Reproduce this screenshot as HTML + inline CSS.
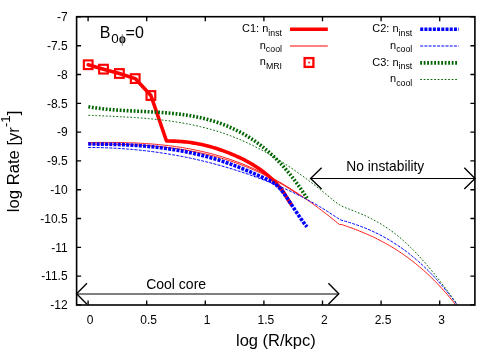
<!DOCTYPE html>
<html><head><meta charset="utf-8"><title>plot</title>
<style>html,body{margin:0;padding:0;background:#fff;width:500px;height:350px;overflow:hidden}body{position:relative;font-family:"Liberation Sans",sans-serif}</style>
</head><body>
<svg width="500" height="350" viewBox="0 0 500 350" style="position:absolute;left:0;top:0;will-change:transform">
<rect width="500" height="350" fill="#fff"/>
<path d="M88.10,305.0 v-4.5 M88.10,16.7 v4.5 M146.70,305.0 v-4.5 M146.70,16.7 v4.5 M205.30,305.0 v-4.5 M205.30,16.7 v4.5 M263.90,305.0 v-4.5 M263.90,16.7 v4.5 M322.50,305.0 v-4.5 M322.50,16.7 v4.5 M381.10,305.0 v-4.5 M381.10,16.7 v4.5 M439.70,305.0 v-4.5 M439.70,16.7 v4.5 M76.6,16.90 h4.5 M474.9,16.90 h-4.5 M76.6,45.70 h4.5 M474.9,45.70 h-4.5 M76.6,74.50 h4.5 M474.9,74.50 h-4.5 M76.6,103.30 h4.5 M474.9,103.30 h-4.5 M76.6,132.10 h4.5 M474.9,132.10 h-4.5 M76.6,160.90 h4.5 M474.9,160.90 h-4.5 M76.6,189.70 h4.5 M474.9,189.70 h-4.5 M76.6,218.50 h4.5 M474.9,218.50 h-4.5 M76.6,247.30 h4.5 M474.9,247.30 h-4.5 M76.6,276.10 h4.5 M474.9,276.10 h-4.5 M76.6,304.90 h4.5 M474.9,304.90 h-4.5" stroke="#000" stroke-width="1.35" fill="none"/>
<g fill="none" stroke-linejoin="round">
<path d="M88.20,64.75 L103.50,69.15 L119.40,73.50 L135.20,78.60 L150.90,95.50 L166.50,141.00 L168.51,141.03 L170.52,141.04 L172.52,141.08 L174.53,141.14 L176.54,141.23 L178.55,141.34 L180.56,141.48 L182.56,141.65 L184.57,141.84 L186.58,142.06 L188.59,142.31 L190.60,142.59 L192.60,142.89 L194.61,143.21 L196.62,143.57 L198.63,143.95 L200.64,144.36 L202.65,144.79 L204.65,145.25 L206.66,145.74 L208.67,146.26 L210.68,146.80 L212.69,147.37 L214.69,147.97 L216.70,148.59 L218.71,149.24 L220.72,149.92 L222.73,150.62 L224.73,151.36 L226.74,152.12 L228.75,152.90 L230.76,153.72 L232.77,154.56 L234.77,155.43 L236.78,156.33 L238.79,157.25 L240.80,158.20 L242.81,159.19 L244.81,160.20 L246.82,161.25 L248.83,162.35 L250.84,163.48 L252.85,164.67 L254.85,165.91 L256.86,167.21 L258.87,168.56 L260.88,169.99 L262.89,171.48 L264.90,173.04 L266.90,174.68 L268.91,176.40 L270.92,178.21 L272.93,180.10 L274.94,182.09 L276.94,184.17 L278.95,186.36 L280.96,188.68 L282.97,191.28 L284.98,194.36 L286.98,197.80 L288.99,201.17 L291.00,204.05" stroke="#f00" stroke-width="3.6" stroke-linecap="round"/>
<path d="M88.20,142.62 L90.21,142.59 L92.22,142.56 L94.23,142.53 L96.24,142.50 L98.25,142.48 L100.26,142.46 L102.27,142.45 L104.28,142.44 L106.29,142.43 L108.30,142.43 L110.31,142.44 L112.32,142.45 L114.34,142.46 L116.35,142.48 L118.36,142.51 L120.37,142.54 L122.38,142.58 L124.39,142.63 L126.40,142.68 L128.41,142.74 L130.42,142.80 L132.43,142.87 L134.44,142.95 L136.45,143.04 L138.46,143.14 L140.47,143.24 L142.48,143.35 L144.49,143.48 L146.50,143.61 L148.51,143.74 L150.52,143.89 L152.53,144.05 L154.54,144.21 L156.55,144.39 L158.56,144.58 L160.57,144.77 L162.58,144.98 L164.60,145.20 L166.61,145.43 L168.62,145.67 L170.63,145.92 L172.64,146.18 L174.65,146.45 L176.66,146.74 L178.67,147.03 L180.68,147.34 L182.69,147.67 L184.70,148.00 L186.71,148.35 L188.72,148.71 L190.73,149.09 L192.74,149.47 L194.75,149.87 L196.76,150.29 L198.77,150.72 L200.78,151.16 L202.79,151.62 L204.80,152.10 L206.81,152.59 L208.82,153.09 L210.83,153.61 L212.84,154.14 L214.86,154.69 L216.87,155.26 L218.88,155.84 L220.89,156.44 L222.90,157.06 L224.91,157.69 L226.92,158.34 L228.93,159.01 L230.94,159.69 L232.95,160.40 L234.96,161.12 L236.97,161.86 L238.98,162.61 L240.99,163.39 L243.00,164.18 L245.01,165.00 L247.02,165.83 L249.03,166.68 L251.04,167.55 L253.05,168.44 L255.06,169.36 L257.07,170.29 L259.08,171.24 L261.09,172.21 L263.10,173.21 L265.12,174.22 L267.13,175.25 L269.14,176.31 L271.15,177.38 L273.16,178.48 L275.17,179.59 L277.18,180.73 L279.19,181.88 L281.20,183.05 L283.21,184.24 L285.22,185.45 L287.23,186.68 L289.24,187.92 L291.25,189.19 L293.26,190.47 L295.27,191.77 L297.28,193.09 L299.29,194.43 L301.30,195.78 L303.31,197.15 L305.32,198.54 L307.33,199.94 L309.34,201.37 L311.35,202.80 L313.36,204.26 L315.38,205.73 L317.39,207.21 L319.40,208.72 L321.41,210.23 L323.42,211.77 L325.43,213.32 L327.44,214.88 L329.45,216.46 L331.46,218.05 L333.47,219.66 L335.48,221.29 L337.49,222.92 L339.50,224.57 L341.50,224.50 L343.50,225.17 L345.51,225.85 L347.51,226.54 L349.51,227.25 L351.51,227.98 L353.51,228.72 L355.51,229.48 L357.52,230.25 L359.52,231.05 L361.52,231.86 L363.52,232.69 L365.52,233.55 L367.52,234.42 L369.53,235.32 L371.53,236.23 L373.53,237.18 L375.53,238.14 L377.53,239.13 L379.53,240.15 L381.54,241.19 L383.54,242.26 L385.54,243.35 L387.54,244.48 L389.54,245.63 L391.54,246.81 L393.55,248.03 L395.55,249.27 L397.55,250.55 L399.55,251.86 L401.55,253.20 L403.56,254.58 L405.56,255.99 L407.56,257.43 L409.56,258.92 L411.56,260.44 L413.56,262.00 L415.57,263.59 L417.57,265.23 L419.57,266.90 L421.57,268.62 L423.57,270.37 L425.57,272.17 L427.58,274.01 L429.58,275.90 L431.58,277.83 L433.58,279.80 L435.58,281.82 L437.58,283.89 L439.59,286.00 L441.59,288.16 L443.59,290.37 L445.59,292.63 L447.59,294.94 L449.59,297.29 L451.60,299.71 L453.60,302.17 L455.60,304.68" stroke="#f00" stroke-width="0.9"/>
<path d="M88.20,144.03 L90.22,144.03 L92.23,144.03 L94.25,144.04 L96.27,144.05 L98.29,144.06 L100.30,144.07 L102.32,144.09 L104.34,144.11 L106.35,144.13 L108.37,144.15 L110.39,144.18 L112.41,144.21 L114.42,144.25 L116.44,144.29 L118.46,144.34 L120.47,144.39 L122.49,144.44 L124.51,144.51 L126.53,144.57 L128.54,144.64 L130.56,144.72 L132.58,144.81 L134.59,144.90 L136.61,145.00 L138.63,145.10 L140.65,145.21 L142.66,145.33 L144.68,145.46 L146.70,145.59 L148.71,145.73 L150.73,145.88 L152.75,146.04 L154.77,146.21 L156.78,146.39 L158.80,146.57 L160.82,146.77 L162.83,146.98 L164.85,147.19 L166.87,147.42 L168.89,147.65 L170.90,147.90 L172.92,148.15 L174.94,148.42 L176.95,148.70 L178.97,148.99 L180.99,149.30 L183.01,149.61 L185.02,149.94 L187.04,150.28 L189.06,150.63 L191.07,150.99 L193.09,151.37 L195.11,151.76 L197.13,152.17 L199.14,152.58 L201.16,153.02 L203.18,153.46 L205.19,153.93 L207.21,154.40 L209.23,154.89 L211.25,155.40 L213.26,155.92 L215.28,156.46 L217.30,157.01 L219.31,157.58 L221.33,158.17 L223.35,158.77 L225.37,159.39 L227.38,160.02 L229.40,160.68 L231.42,161.35 L233.43,162.03 L235.45,162.74 L237.47,163.46 L239.49,164.20 L241.50,164.96 L243.52,165.74 L245.54,166.53 L247.55,167.35 L249.57,168.18 L251.59,169.03 L253.61,169.91 L255.62,170.80 L257.64,171.71 L259.66,172.64 L261.67,173.59 L263.69,174.56 L265.71,175.55 L267.73,176.56 L269.74,177.59 L271.76,178.64 L273.78,179.71 L275.79,180.81 L277.81,181.92 L279.83,183.06 L281.85,184.22 L283.86,185.40 L285.88,186.60 L287.90,187.83 L289.91,189.07 L291.93,190.34 L293.95,191.63 L295.97,192.95 L297.98,194.29 L300.00,195.65" stroke="#f00" stroke-width="0.9"/>
<rect x="83.85" y="60.40" width="8.7" height="8.7" stroke="#f00" stroke-width="2.15" stroke-linejoin="miter"/>
<rect x="99.15" y="64.80" width="8.7" height="8.7" stroke="#f00" stroke-width="2.15" stroke-linejoin="miter"/>
<rect x="115.05" y="69.15" width="8.7" height="8.7" stroke="#f00" stroke-width="2.15" stroke-linejoin="miter"/>
<rect x="130.85" y="74.25" width="8.7" height="8.7" stroke="#f00" stroke-width="2.15" stroke-linejoin="miter"/>
<rect x="146.55" y="91.15" width="8.7" height="8.7" stroke="#f00" stroke-width="2.15" stroke-linejoin="miter"/>
<path d="M88.20,144.06 L90.21,144.06 L92.21,144.06 L94.22,144.06 L96.23,144.07 L98.24,144.09 L100.24,144.11 L102.25,144.13 L104.26,144.16 L106.27,144.19 L108.27,144.23 L110.28,144.28 L112.29,144.33 L114.30,144.38 L116.30,144.45 L118.31,144.51 L120.32,144.59 L122.32,144.67 L124.33,144.76 L126.34,144.86 L128.35,144.96 L130.35,145.07 L132.36,145.19 L134.37,145.31 L136.38,145.45 L138.38,145.59 L140.39,145.74 L142.40,145.90 L144.41,146.07 L146.41,146.24 L148.42,146.43 L150.43,146.62 L152.43,146.83 L154.44,147.04 L156.45,147.26 L158.46,147.50 L160.46,147.74 L162.47,147.99 L164.48,148.26 L166.49,148.53 L168.49,148.82 L170.50,149.12 L172.51,149.43 L174.52,149.75 L176.52,150.08 L178.53,150.42 L180.54,150.78 L182.54,151.15 L184.55,151.53 L186.56,151.92 L188.57,152.32 L190.57,152.74 L192.58,153.18 L194.59,153.62 L196.60,154.08 L198.60,154.55 L200.61,155.04 L202.62,155.54 L204.63,156.05 L206.63,156.58 L208.64,157.13 L210.65,157.68 L212.66,158.26 L214.66,158.85 L216.67,159.45 L218.68,160.07 L220.68,160.71 L222.69,161.36 L224.70,162.02 L226.71,162.71 L228.71,163.41 L230.72,164.12 L232.73,164.86 L234.74,165.61 L236.74,166.38 L238.75,167.16 L240.76,167.96 L242.77,168.78 L244.77,169.62 L246.78,170.47 L248.79,171.33 L250.79,172.20 L252.80,173.07 L254.81,173.96 L256.82,174.84 L258.82,175.73 L260.83,176.62 L262.84,177.51 L264.85,178.40 L266.85,179.28 L268.86,180.22 L270.87,181.24 L272.88,182.42 L274.88,183.81 L276.89,185.44 L278.90,187.39 L280.90,189.65 L282.91,192.18 L284.92,194.91 L286.93,197.81 L288.93,200.81 L290.94,203.87 L292.95,206.94 L294.96,210.00 L296.96,213.03 L298.97,216.00 L300.98,218.89 L302.99,221.68 L304.99,224.35 L307.00,226.86" stroke="#00f" stroke-width="3.6" stroke-dasharray="3 1.22"/>
<path d="M88.20,147.48 L90.21,147.49 L92.22,147.50 L94.23,147.52 L96.24,147.55 L98.25,147.58 L100.26,147.63 L102.27,147.68 L104.28,147.74 L106.29,147.81 L108.30,147.89 L110.31,147.97 L112.32,148.06 L114.34,148.16 L116.35,148.27 L118.36,148.39 L120.37,148.52 L122.38,148.65 L124.39,148.79 L126.40,148.94 L128.41,149.10 L130.42,149.27 L132.43,149.44 L134.44,149.63 L136.45,149.82 L138.46,150.02 L140.47,150.23 L142.48,150.44 L144.49,150.67 L146.50,150.90 L148.51,151.15 L150.52,151.40 L152.53,151.66 L154.54,151.92 L156.55,152.20 L158.56,152.49 L160.57,152.78 L162.58,153.08 L164.60,153.39 L166.61,153.71 L168.62,154.04 L170.63,154.38 L172.64,154.73 L174.65,155.08 L176.66,155.45 L178.67,155.82 L180.68,156.20 L182.69,156.59 L184.70,156.99 L186.71,157.40 L188.72,157.81 L190.73,158.24 L192.74,158.67 L194.75,159.12 L196.76,159.57 L198.77,160.03 L200.78,160.50 L202.79,160.98 L204.80,161.47 L206.81,161.97 L208.82,162.48 L210.83,163.00 L212.84,163.52 L214.86,164.06 L216.87,164.60 L218.88,165.15 L220.89,165.72 L222.90,166.29 L224.91,166.87 L226.92,167.46 L228.93,168.06 L230.94,168.67 L232.95,169.29 L234.96,169.92 L236.97,170.55 L238.98,171.20 L240.99,171.86 L243.00,172.52 L245.01,173.20 L247.02,173.88 L249.03,174.58 L251.04,175.28 L253.05,176.00 L255.06,176.72 L257.07,177.45 L259.08,178.19 L261.09,178.95 L263.10,179.71 L265.12,180.48 L267.13,181.27 L269.14,182.06 L271.15,182.86 L273.16,183.68 L275.17,184.51 L277.18,185.35 L279.19,186.20 L281.20,187.07 L283.21,187.95 L285.22,188.84 L287.23,189.75 L289.24,190.67 L291.25,191.61 L293.26,192.56 L295.27,193.53 L297.28,194.51 L299.29,195.51 L301.30,196.53 L303.31,197.56 L305.32,198.61 L307.33,199.68 L309.34,200.76 L311.35,201.86 L313.36,202.98 L315.38,204.12 L317.39,205.28 L319.40,206.46 L321.41,207.66 L323.42,208.88 L325.43,210.12 L327.44,211.38 L329.45,212.66 L331.46,213.96 L333.47,215.29 L335.48,216.63 L337.49,218.00 L339.50,219.39 L341.53,220.24 L343.55,220.78 L345.58,221.35 L347.60,221.94 L349.63,222.55 L351.66,223.19 L353.68,223.85 L355.71,224.53 L357.73,225.24 L359.76,225.98 L361.78,226.74 L363.81,227.53 L365.84,228.34 L367.86,229.19 L369.89,230.06 L371.91,230.97 L373.94,231.90 L375.97,232.87 L377.99,233.87 L380.02,234.90 L382.04,235.96 L384.07,237.06 L386.09,238.19 L388.12,239.36 L390.15,240.56 L392.17,241.80 L394.20,243.08 L396.22,244.39 L398.25,245.75 L400.28,247.14 L402.30,248.57 L404.33,250.04 L406.35,251.55 L408.38,253.11 L410.41,254.71 L412.43,256.35 L414.46,258.03 L416.48,259.76 L418.51,261.53 L420.53,263.35 L422.56,265.21 L424.59,267.13 L426.61,269.08 L428.64,271.09 L430.66,273.15 L432.69,275.25 L434.72,277.41 L436.74,279.62 L438.77,281.88 L440.79,284.19 L442.82,286.55 L444.84,288.97 L446.87,291.44 L448.90,293.96 L450.92,296.55 L452.95,299.18 L454.97,301.88 L457.00,304.63" stroke="#00f" stroke-width="1" stroke-dasharray="3 1.22"/>
<path d="M88.40,106.76 L90.41,107.10 L92.42,107.42 L94.43,107.72 L96.44,108.00 L98.45,108.26 L100.46,108.51 L102.47,108.75 L104.48,108.97 L106.49,109.18 L108.50,109.37 L110.51,109.55 L112.52,109.72 L114.53,109.88 L116.54,110.03 L118.55,110.17 L120.56,110.30 L122.57,110.43 L124.58,110.55 L126.59,110.66 L128.60,110.77 L130.61,110.87 L132.62,110.97 L134.63,111.07 L136.64,111.16 L138.65,111.26 L140.66,111.35 L142.67,111.45 L144.68,111.54 L146.69,111.64 L148.70,111.74 L150.71,111.84 L152.72,111.95 L154.73,112.06 L156.74,112.18 L158.75,112.30 L160.76,112.43 L162.77,112.57 L164.78,112.72 L166.79,112.88 L168.80,113.05 L170.81,113.23 L172.82,113.42 L174.83,113.63 L176.84,113.85 L178.85,114.08 L180.86,114.33 L182.87,114.59 L184.88,114.87 L186.89,115.17 L188.90,115.49 L190.91,115.83 L192.92,116.18 L194.93,116.56 L196.94,116.95 L198.96,117.37 L200.97,117.82 L202.98,118.28 L204.99,118.77 L207.00,119.29 L209.01,119.83 L211.02,120.40 L213.03,121.00 L215.04,121.62 L217.05,122.28 L219.06,122.96 L221.07,123.67 L223.08,124.42 L225.09,125.20 L227.10,126.01 L229.11,126.86 L231.12,127.74 L233.13,128.65 L235.14,129.60 L237.15,130.59 L239.16,131.62 L241.17,132.68 L243.18,133.79 L245.19,134.93 L247.20,136.12 L249.21,137.35 L251.22,138.63 L253.23,139.95 L255.24,141.33 L257.25,142.75 L259.26,144.23 L261.27,145.76 L263.28,147.34 L265.29,148.98 L267.30,150.68 L269.31,152.43 L271.32,154.25 L273.33,156.13 L275.34,158.07 L277.35,160.08 L279.36,162.16 L281.37,164.30 L283.38,166.51 L285.39,168.79 L287.40,171.15 L289.41,173.58 L291.42,176.09 L293.43,178.67 L295.44,181.33 L297.45,184.07 L299.46,186.90 L301.47,189.80 L303.48,192.80 L305.49,195.87 L307.50,199.04" stroke="#006400" stroke-width="3.6" stroke-dasharray="1.8 1.7"/>
<path d="M88.40,115.27 L90.41,115.36 L92.41,115.45 L94.42,115.54 L96.42,115.63 L98.43,115.71 L100.44,115.80 L102.44,115.89 L104.45,115.97 L106.45,116.06 L108.46,116.15 L110.47,116.24 L112.47,116.33 L114.48,116.42 L116.48,116.52 L118.49,116.62 L120.50,116.72 L122.50,116.82 L124.51,116.93 L126.51,117.04 L128.52,117.16 L130.53,117.28 L132.53,117.41 L134.54,117.54 L136.54,117.67 L138.55,117.81 L140.56,117.96 L142.56,118.12 L144.57,118.28 L146.57,118.44 L148.58,118.62 L150.59,118.80 L152.59,118.99 L154.60,119.19 L156.60,119.40 L158.61,119.61 L160.62,119.84 L162.62,120.07 L164.63,120.32 L166.63,120.57 L168.64,120.84 L170.65,121.11 L172.65,121.40 L174.66,121.70 L176.66,122.01 L178.67,122.33 L180.68,122.67 L182.68,123.01 L184.69,123.37 L186.69,123.75 L188.70,124.13 L190.70,124.53 L192.71,124.95 L194.72,125.38 L196.72,125.82 L198.73,126.28 L200.73,126.75 L202.74,127.24 L204.75,127.75 L206.75,128.27 L208.76,128.81 L210.76,129.37 L212.77,129.94 L214.78,130.53 L216.78,131.14 L218.79,131.77 L220.79,132.42 L222.80,133.08 L224.81,133.76 L226.81,134.47 L228.82,135.19 L230.82,135.93 L232.83,136.70 L234.84,137.48 L236.84,138.29 L238.85,139.12 L240.85,139.96 L242.86,140.84 L244.87,141.73 L246.87,142.64 L248.88,143.58 L250.88,144.53 L252.89,145.51 L254.90,146.51 L256.90,147.53 L258.91,148.57 L260.91,149.63 L262.92,150.71 L264.93,151.81 L266.93,152.93 L268.94,154.07 L270.94,155.23 L272.95,156.41 L274.96,157.61 L276.96,158.83 L278.97,160.06 L280.97,161.32 L282.98,162.60 L284.99,163.89 L286.99,165.20 L289.00,166.53 L291.00,167.88 L293.01,169.25 L295.02,170.64 L297.02,172.04 L299.03,173.46 L301.03,174.90 L303.04,176.36 L305.05,177.83 L307.05,179.32 L309.06,180.83 L311.06,182.35 L313.07,183.89 L315.08,185.45 L317.08,187.02 L319.09,188.61 L321.09,190.22 L323.10,191.84 L325.11,193.47 L327.11,195.12 L329.12,196.78 L331.12,198.45 L333.13,200.11 L335.14,201.71 L337.14,203.22 L339.15,204.58 L341.15,205.76 L343.16,206.76 L345.17,207.63 L347.17,208.42 L349.18,209.16 L351.18,209.90 L353.19,210.66 L355.20,211.44 L357.20,212.24 L359.21,213.07 L361.21,213.92 L363.22,214.80 L365.23,215.71 L367.23,216.65 L369.24,217.63 L371.24,218.63 L373.25,219.68 L375.25,220.75 L377.26,221.87 L379.27,223.03 L381.27,224.23 L383.28,225.47 L385.28,226.75 L387.29,228.08 L389.30,229.46 L391.30,230.89 L393.31,232.37 L395.31,233.90 L397.32,235.49 L399.33,237.13 L401.33,238.82 L403.34,240.57 L405.34,242.38 L407.35,244.24 L409.36,246.16 L411.36,248.13 L413.37,250.14 L415.37,252.21 L417.38,254.32 L419.39,256.48 L421.39,258.69 L423.40,260.94 L425.40,263.23 L427.41,265.57 L429.42,267.94 L431.42,270.36 L433.43,272.81 L435.43,275.30 L437.44,277.83 L439.45,280.39 L441.45,282.98 L443.46,285.60 L445.46,288.26 L447.47,290.95 L449.48,293.66 L451.48,296.40 L453.49,299.17 L455.49,301.97 L457.50,304.78" stroke="#006400" stroke-width="1" stroke-dasharray="1.7 1.8"/>
</g>
<g fill="none">
<path d="M290,29.3 H327.8" stroke="#f00" stroke-width="3.6"/>
<path d="M290,46 H327.8" stroke="#f00" stroke-width="1"/>
<rect x="304.6" y="58.1" width="8.8" height="8.8" stroke="#f00" stroke-width="2.3"/>
<rect x="308.2" y="61.7" width="1.6" height="1.6" fill="#f00"/>
<path d="M420.2,29.3 H458.7" stroke="#00f" stroke-width="3.6" stroke-dasharray="3 1.22"/>
<path d="M420.2,46 H458.7" stroke="#00f" stroke-width="1" stroke-dasharray="3 1.22"/>
<path d="M420.2,62.9 H457" stroke="#006400" stroke-width="3.6" stroke-dasharray="1.8 1.7"/>
<path d="M420.2,79.5 H457" stroke="#006400" stroke-width="1" stroke-dasharray="1.7 1.8"/>
</g>
<g fill="none" stroke="#000" stroke-width="1.35">
<path d="M321.6,167.8 L310.6,178.4 L321.6,189 M464.3,167.8 L475,178.4 L464.3,189"/>
<path d="M87,283.3 L76.6,293.8 L87,304.3 M328.4,283.3 L338.8,293.8 L328.4,304.3"/>
</g>
<path d="M310.6,178.5 H475" stroke="#000" stroke-width="1" fill="none"/>
<path d="M76.6,294 H338.8" stroke="#000" stroke-width="1" fill="none"/>
<rect x="76.6" y="16.7" width="398.30" height="288.30" fill="none" stroke="#000" stroke-width="1.6"/>
<g font-family="Liberation Sans, sans-serif" fill="#000">
<text x="67.6" y="21.20" font-size="12" text-anchor="end">-7</text>
<text x="67.6" y="50.00" font-size="12" text-anchor="end">-7.5</text>
<text x="67.6" y="78.80" font-size="12" text-anchor="end">-8</text>
<text x="67.6" y="107.60" font-size="12" text-anchor="end">-8.5</text>
<text x="67.6" y="136.40" font-size="12" text-anchor="end">-9</text>
<text x="67.6" y="165.20" font-size="12" text-anchor="end">-9.5</text>
<text x="67.6" y="194.00" font-size="12" text-anchor="end">-10</text>
<text x="67.6" y="222.80" font-size="12" text-anchor="end">-10.5</text>
<text x="67.6" y="251.60" font-size="12" text-anchor="end">-11</text>
<text x="67.6" y="280.40" font-size="12" text-anchor="end">-11.5</text>
<text x="67.6" y="309.20" font-size="12" text-anchor="end">-12</text>
<text x="90.00" y="323.7" font-size="12" text-anchor="middle">0</text>
<text x="148.60" y="323.7" font-size="12" text-anchor="middle">0.5</text>
<text x="207.20" y="323.7" font-size="12" text-anchor="middle">1</text>
<text x="265.80" y="323.7" font-size="12" text-anchor="middle">1.5</text>
<text x="324.40" y="323.7" font-size="12" text-anchor="middle">2</text>
<text x="383.00" y="323.7" font-size="12" text-anchor="middle">2.5</text>
<text x="441.60" y="323.7" font-size="12" text-anchor="middle">3</text>
<text x="236" y="346" font-size="16.5">log (R/kpc)</text>
<text transform="translate(18.5,212.2) rotate(-90)" font-size="16.65">log Rate [yr<tspan font-size="13.2" dy="-8.5">-1</tspan><tspan dy="8.5">]</tspan></text>
<text x="99.7" y="37.6" font-size="16">B</text><text x="111.2" y="43.2" font-size="13.4">0</text><text x="125.6" y="37.6" font-size="16">=0</text>
<ellipse cx="122.4" cy="39.8" rx="2.5" ry="3" fill="#999" stroke="#000" stroke-width="1.1"/><path d="M122.3,34.2 V45.8" stroke="#777" stroke-width="1" fill="none"/>
<text x="346.3" y="171.3" font-size="13.75">No instability</text>
<text x="146.2" y="289.4" font-size="14">Cool core</text>
<text x="282" y="32" font-size="11" text-anchor="end">C1: n<tspan font-size="8.8" dy="3.6">inst</tspan></text>
<text x="282" y="48.5" font-size="11" text-anchor="end">n<tspan font-size="8.8" dy="3.6">cool</tspan></text>
<text x="282" y="65" font-size="11" text-anchor="end">n<tspan font-size="8.8" dy="3.6">MRI</tspan></text>
<text x="412.3" y="32" font-size="11" text-anchor="end">C2: n<tspan font-size="8.8" dy="3.6">inst</tspan></text>
<text x="412.3" y="48.5" font-size="11" text-anchor="end">n<tspan font-size="8.8" dy="3.6">cool</tspan></text>
<text x="412.3" y="65.5" font-size="11" text-anchor="end">C3: n<tspan font-size="8.8" dy="3.6">inst</tspan></text>
<text x="412.3" y="82" font-size="11" text-anchor="end">n<tspan font-size="8.8" dy="3.6">cool</tspan></text>
</g>
</svg>
</body></html>
